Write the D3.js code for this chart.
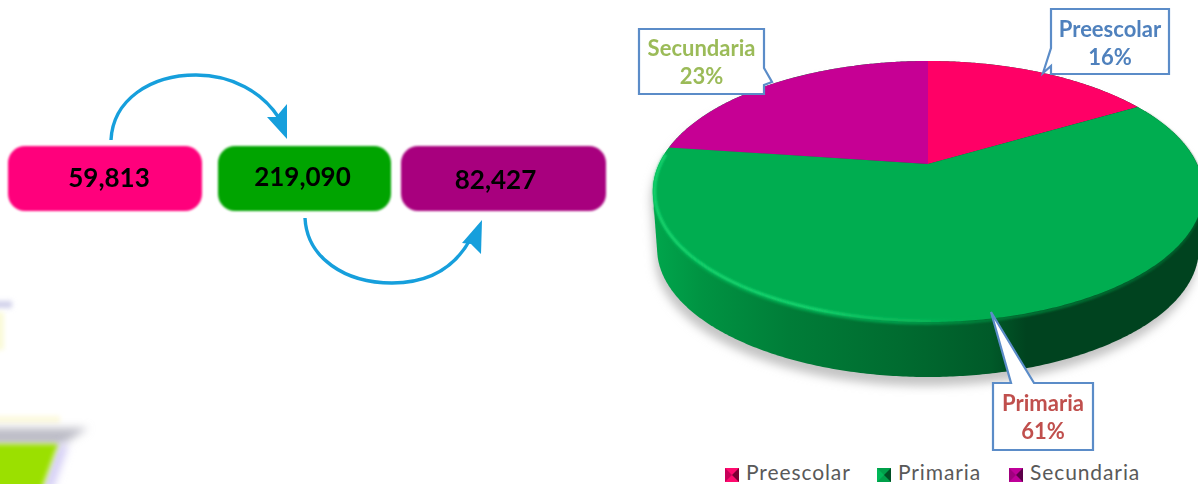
<!DOCTYPE html>
<html>
<head>
<meta charset="utf-8">
<script src="https://cdn.jsdelivr.net/npm/d3@7"></script>
<style>
    html, body { margin: 0; padding: 0; background: #fff; }
    svg { display: block; }
    text { font-family: Lato, "Open Sans", sans-serif; }
</style>
</head>
<body>
<svg id="chart" width="1198" height="484"></svg>
<script>
// data
var categories = ["Preescolar", "Primaria", "Secundaria"];
var students = [59813, 219090, 82427];
var studentLabels = ["59,813", "219,090", "82,427"];
var percentLabels = ["16%", "61%", "23%"];
var sliceColors = ["#ff0066", "#00ad50", "#c60094"];
var boxColors = ["#ff007c", "#00a400", "#a8007e"];
var labelColors = ["#4f81bd", "#c0504d", "#9bbb59"];

var svg = d3.select("#chart");
var defs = svg.append("defs");

function blur(id, dev) {
    defs.append("filter")
        .attr("id", id)
        .attr("filterUnits", "userSpaceOnUse")
        .attr("x", -30).attr("y", -30)
        .attr("width", 1260).attr("height", 550)
        .append("feGaussianBlur")
        .attr("stdDeviation", dev);
}
blur("soft", 0.8);
blur("arrowSoft", 0.45);
blur("textSoft", 0.35);
blur("rimBlur", 1);
blur("smear", 4);
blur("smear2", 2.5);
blur("shadow", 5);

function hGradient(id, stops) {
    var g = defs.append("linearGradient")
        .attr("id", id)
        .attr("gradientUnits", "userSpaceOnUse")
        .attr("x1", 653).attr("x2", 1198)
        .attr("y1", 0).attr("y2", 0);
    stops.forEach(function (s) {
        g.append("stop").attr("offset", s[0]).attr("stop-color", s[1]).attr("stop-opacity", s[2] === undefined ? 1 : s[2]);
    });
}
hGradient("wallFill", [[0, "#00a64c"], [0.09, "#009342"], [0.25, "#007d38"], [0.45, "#006c30"], [0.62, "#005a29"], [0.685, "#00431f"], [1, "#00431f"]]);
hGradient("rimStroke", [[0, "#14d46e"], [0.3, "#1ad872", 0.9], [0.5, "#10c060", 0.5], [0.6, "#00ad50", 0]]);
hGradient("edgeStroke", [[0, "#00a64c"], [0.45, "#009a48"], [0.62, "#00803a"], [1, "#00602c"]]);

// ---- blurry leftovers in the left corner
var smear = svg.append("g");
smear.append("rect").attr("x", -6).attr("y", 301).attr("width", 18).attr("height", 7).attr("fill", "#d0d0ea").attr("filter", "url(#smear2)");
smear.append("rect").attr("x", -6).attr("y", 312).attr("width", 10).attr("height", 38).attr("fill", "#fafad8").attr("filter", "url(#smear2)");
smear.append("polygon").attr("points", "-10,416 60,416 60,423 -10,423").attr("fill", "#fdf9dc").attr("filter", "url(#smear2)");
smear.append("polygon").attr("points", "-10,428 88,428 62,445 -10,445").attr("fill", "#bcbcc6").attr("filter", "url(#smear)");
smear.append("polygon").attr("points", "58,445 68,445 52,490 42,490").attr("fill", "#cfc8f4").attr("filter", "url(#smear)");
smear.append("polygon").attr("points", "-10,444 58,444 40,494 -10,494").attr("fill", "#9be000").attr("filter", "url(#smear2)");

// ---- rounded boxes with the totals
var boxX = d3.scaleOrdinal().domain(categories).range([8, 218, 401]);
var boxW = d3.scaleOrdinal().domain(categories).range([194, 173, 205]);
var boxDy = d3.scaleOrdinal().domain(categories).range([0, -1, 2]);

svg.selectAll(".box")
    .data(categories)
    .enter()
    .append("rect")
    .attr("class", "box")
    .attr("x", function (d) { return boxX(d); })
    .attr("y", 146)
    .attr("width", function (d) { return boxW(d); })
    .attr("height", 65)
    .attr("rx", 17)
    .attr("fill", function (d, i) { return boxColors[i]; })
    .attr("filter", "url(#soft)");

svg.selectAll(".boxText")
    .data(categories)
    .enter()
    .append("text")
    .attr("class", "boxText")
    .attr("x", function (d) { return boxX(d) + boxW(d) / 2 + (d == "Preescolar" ? 4 : (d == "Primaria" ? -2 : -8)); })
    .attr("y", function (d) { return 187 + boxDy(d); })
    .attr("text-anchor", "middle")
    .attr("font-size", 26)
    .attr("font-weight", 700)
    .attr("fill", "#000")
    .attr("filter", "url(#textSoft)")
    .text(function (d, i) { return studentLabels[i]; });

// ---- curved arrows
var arrowColor = "#159fdc";
function arrow(d, head) {
    svg.append("path").attr("d", d).attr("fill", "none")
        .attr("stroke", arrowColor).attr("stroke-width", 3.4).attr("filter", "url(#arrowSoft)");
    svg.append("polygon").attr("points", head).attr("fill", arrowColor).attr("filter", "url(#arrowSoft)");
}
arrow("M111,140 C113,100 150,75 196,75 C232,75 262,92 279,118", "287,139 267,117 276,117 287,104");
arrow("M305,218 C307,258 345,283 392,283 C428,283 455,268 471,238", "482,220 481,254 471,244 462,243");

// ---- pie: d3.pie gives the angles, project() tilts them with perspective
var pie = d3.pie().sort(null).value(function (d) { return d; });
var slices = pie(students);

var cx = 928, cy = 164, R = 269, K = 124.7, p = 0.2107;
function project(a, drop, scale) {
    var u = Math.sin(a) * scale, v = -Math.cos(a) * scale;
    var w = 1 - p * v;
    return [cx + R * u / w, cy + drop + K * v / w];
}
var line = d3.line();
function arcPoints(a0, a1, drop, scale) {
    var n = Math.ceil(Math.abs(a1 - a0) / 0.01);
    return d3.range(n + 1).map(function (i) {
        return project(a0 + (a1 - a0) * i / n, drop, scale);
    });
}

// body of the disc
var topRing = arcPoints(0, 2 * Math.PI, 0, 1);
var lowRing = arcPoints(0, 2 * Math.PI, 58, 0.985);
var hull = d3.polygonHull(topRing.concat(lowRing));

svg.append("path")
    .attr("d", line(hull) + "Z")
    .attr("transform", "translate(-2,9)")
    .attr("fill", "#c4c4c4")
    .attr("filter", "url(#shadow)");

svg.append("path")
    .attr("d", line(hull) + "Z")
    .attr("fill", "url(#wallFill)");

// soft join between wall and top face
var prim = slices[1];
svg.append("path")
    .attr("d", line(arcPoints(prim.startAngle + 0.05, Math.PI * 1.4, 2, 0.997)))
    .attr("fill", "none")
    .attr("stroke", "url(#edgeStroke)")
    .attr("stroke-width", 3)
    .attr("filter", "url(#rimBlur)");

// top face slices
svg.selectAll(".slice")
    .data(slices)
    .enter()
    .append("path")
    .attr("class", "slice")
    .attr("d", function (d) {
        return "M" + cx + "," + cy + "L" + line(arcPoints(d.startAngle, d.endAngle, 0, 1)).slice(1) + "Z";
    })
    .attr("fill", function (d, i) { return sliceColors[i]; });

// bevel on the front edge of the big slice
svg.append("path")
    .attr("d", line(arcPoints(Math.PI * 0.5, prim.endAngle - 0.06, 0, 0.994)))
    .attr("fill", "none")
    .attr("stroke", "url(#rimStroke)")
    .attr("stroke-width", 3)
    .attr("filter", "url(#rimBlur)");

// ---- callouts
var calloutStroke = "#5b8cc8";
var callouts = [
    { name: 0, x: 1051, y: 9, w: 118, h: 65, path: "M1051,9H1169V74H1051V66L1043,73L1051,48Z", t1: 37, t2: 65 },
    { name: 1, x: 993, y: 383, w: 100, h: 67, path: "M993,383H1011L991,312L1034,383H1093V450H993Z", t1: 411, t2: 439 },
    { name: 2, x: 639, y: 29, w: 125, h: 65, path: "M639,29H764V68L772,82L764,85V94H639Z", t1: 56, t2: 84 }
];
callouts.forEach(function (c) {
    svg.append("path")
        .attr("d", c.path)
        .attr("fill", "#fff")
        .attr("stroke", calloutStroke)
        .attr("stroke-width", 2.2)
        .attr("stroke-linejoin", "miter");
    svg.append("text")
        .attr("x", c.x + c.w / 2)
        .attr("y", c.t1)
        .attr("text-anchor", "middle")
        .attr("font-size", 22)
        .attr("font-weight", 700)
        .attr("fill", labelColors[c.name])
        .attr("filter", "url(#textSoft)")
        .text(categories[c.name]);
    svg.append("text")
        .attr("x", c.x + c.w / 2)
        .attr("y", c.t2)
        .attr("text-anchor", "middle")
        .attr("font-size", 22)
        .attr("font-weight", 700)
        .attr("fill", labelColors[c.name])
        .attr("filter", "url(#textSoft)")
        .text(percentLabels[c.name]);
});

// ---- legend
var legendX = d3.scaleOrdinal().domain(categories).range([725, 877, 1009]);
var shades = [["#7a0032", "#ff0a6e", "#c8005a"], ["#004f24", "#00a04a", "#00b858"], ["#5c0048", "#c0009a", "#a0007e"]];

categories.forEach(function (c, i) {
    var x0 = legendX(c), y0 = 468, s = 14;
    var g = svg.append("g");
    g.append("rect").attr("x", x0).attr("y", y0).attr("width", s).attr("height", s).attr("fill", shades[i][1]);
    g.append("polygon")
        .attr("points", [[x0, y0], [x0 + s / 2, y0 + s / 2], [x0, y0 + s]].join(" "))
        .attr("fill", shades[i][2]);
    g.append("polygon")
        .attr("points", [[x0 + s, y0], [x0 + s / 2, y0 + s / 2], [x0 + s, y0 + s]].join(" "))
        .attr("fill", shades[i][0]);
    svg.append("text")
        .attr("x", x0 + 21)
        .attr("y", 480)
        .attr("font-size", 21)
        .attr("letter-spacing", 0.9)
        .attr("fill", "#595959")
        .text(c);
});
</script>
</body>
</html>
